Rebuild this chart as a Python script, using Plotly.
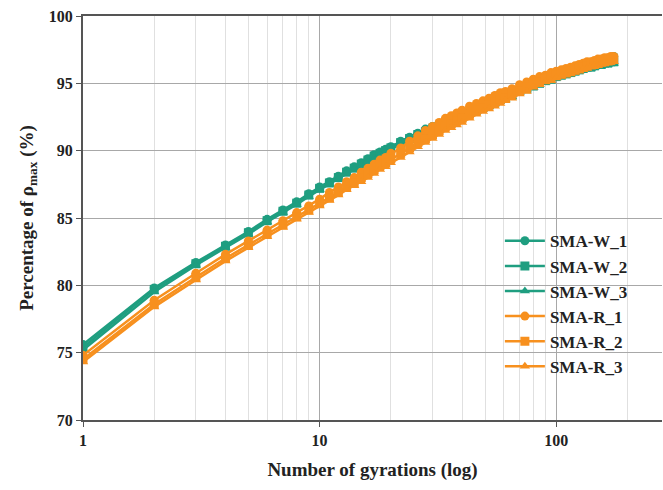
import plotly.graph_objects as go

gyrations = list(range(1, 21)) + list(range(22, 41, 2)) + list(range(43, 62, 3)) + list(range(65, 101, 5)) + list(range(105, 176, 5))

sma_w_1 = [75.6, 79.8, 81.7, 83.0, 84.0, 84.9, 85.6, 86.2, 86.8, 87.3, 87.7, 88.1, 88.5, 88.8, 89.1, 89.4, 89.7, 89.9, 90.1, 90.3,
           90.7, 91.0, 91.3, 91.6, 91.8, 92.0, 92.2, 92.4, 92.6, 92.7,
           93.0, 93.2, 93.4, 93.6, 93.8, 94.0, 94.1,
           94.3, 94.6, 94.8, 95.0, 95.2, 95.4, 95.5, 95.7,
           95.8, 95.9, 96.0, 96.1, 96.2, 96.3, 96.4, 96.5, 96.6, 96.6, 96.7, 96.8, 96.8, 96.9, 97.0]
sma_w_2 = [75.4, 79.7, 81.6, 82.9, 83.9, 84.8, 85.5, 86.1, 86.7, 87.2, 87.6, 88.0, 88.4, 88.7, 89.0, 89.3, 89.6, 89.8, 90.0, 90.2,
           90.6, 90.9, 91.2, 91.4, 91.6, 91.8, 92.0, 92.2, 92.4, 92.5,
           92.8, 93.0, 93.2, 93.4, 93.6, 93.8, 93.9,
           94.1, 94.4, 94.6, 94.8, 95.0, 95.2, 95.3, 95.5,
           95.6, 95.7, 95.8, 95.9, 96.0, 96.1, 96.2, 96.2, 96.3, 96.4, 96.4, 96.5, 96.5, 96.6, 96.6]
sma_w_3 = [75.2, 79.5, 81.5, 82.8, 83.8, 84.7, 85.4, 86.0, 86.6, 87.1, 87.5, 87.9, 88.3, 88.6, 88.9, 89.2, 89.4, 89.7, 89.9, 90.1,
           90.5, 90.8, 91.1, 91.3, 91.5, 91.7, 91.9, 92.1, 92.3, 92.4,
           92.7, 92.9, 93.1, 93.3, 93.5, 93.7, 93.8,
           94.0, 94.3, 94.5, 94.7, 94.9, 95.1, 95.2, 95.4,
           95.5, 95.6, 95.7, 95.8, 95.9, 96.0, 96.1, 96.1, 96.2, 96.3, 96.3, 96.4, 96.4, 96.5, 96.5]
sma_r_1 = [74.8, 78.9, 80.9, 82.3, 83.3, 84.1, 84.8, 85.4, 85.9, 86.4, 86.9, 87.3, 87.7, 88.0, 88.4, 88.7, 89.0, 89.3, 89.5, 89.8,
           90.2, 90.7, 91.1, 91.5, 91.8, 92.1, 92.4, 92.6, 92.8, 93.0,
           93.3, 93.5, 93.7, 93.9, 94.1, 94.3, 94.4,
           94.6, 94.9, 95.1, 95.3, 95.5, 95.6, 95.8, 95.9,
           96.0, 96.1, 96.2, 96.3, 96.4, 96.5, 96.6, 96.6, 96.7, 96.8, 96.8, 96.9, 96.9, 97.0, 97.0]
sma_r_2 = [74.5, 78.6, 80.6, 82.0, 83.0, 83.8, 84.5, 85.1, 85.6, 86.1, 86.5, 86.9, 87.3, 87.6, 88.0, 88.3, 88.6, 88.9, 89.1, 89.4,
           89.8, 90.2, 90.6, 90.9, 91.2, 91.5, 91.8, 92.0, 92.2, 92.4,
           92.7, 93.0, 93.2, 93.4, 93.6, 93.8, 93.9,
           94.2, 94.4, 94.7, 94.9, 95.1, 95.3, 95.4, 95.6,
           95.7, 95.8, 95.9, 96.0, 96.1, 96.2, 96.3, 96.4, 96.4, 96.5, 96.6, 96.6, 96.7, 96.7, 96.8]
sma_r_3 = [74.3, 78.4, 80.4, 81.8, 82.8, 83.6, 84.3, 84.9, 85.4, 85.9, 86.3, 86.7, 87.1, 87.4, 87.7, 88.0, 88.3, 88.6, 88.8, 89.1,
           89.5, 89.9, 90.3, 90.6, 90.9, 91.2, 91.5, 91.7, 91.9, 92.1,
           92.4, 92.7, 92.9, 93.1, 93.3, 93.5, 93.7,
           93.9, 94.2, 94.4, 94.7, 94.9, 95.1, 95.2, 95.4,
           95.5, 95.6, 95.7, 95.8, 95.9, 96.0, 96.1, 96.2, 96.3, 96.3, 96.4, 96.5, 96.5, 96.6, 96.6]

series_names = ["SMA-W_1", "SMA-W_2", "SMA-W_3", "SMA-R_1", "SMA-R_2", "SMA-R_3"]
series_values = [sma_w_1, sma_w_2, sma_w_3, sma_r_1, sma_r_2, sma_r_3]
for v in series_values:
    assert len(v) == len(gyrations), len(v)

x_ticks = [1, 10, 100]
y_ticks = [70, 75, 80, 85, 90, 95, 100]
minor_ticks = [2, 3, 4, 5, 6, 7, 8, 9, 20, 30, 40, 50, 60, 70, 80, 90, 200]

GREEN = "#1f9e80"
ORANGE = "#f7901e"
colors = [GREEN, GREEN, GREEN, ORANGE, ORANGE, ORANGE]
symbols = ["circle", "square", "triangle-up", "circle", "square", "triangle-up"]

fig = go.Figure()
for name, vals, c, s in zip(series_names, series_values, colors, symbols):
    fig.add_trace(go.Scatter(
        x=gyrations, y=vals, name=name, mode="lines+markers",
        line=dict(color=c, width=2.5),
        marker=dict(color=c, symbol=s, size=9),
    ))

FONT = "Liberation Serif"
fig.update_layout(
    width=663, height=490,
    margin=dict(l=83, r=1, t=16, b=70),
    paper_bgcolor="white", plot_bgcolor="white",
    font=dict(family=FONT, color="#222", size=16),
    showlegend=True,
    legend=dict(
        x=0.72, y=0.487, xanchor="left", yanchor="top",
        bgcolor="rgba(255,255,255,0)",
        font=dict(family=FONT, size=17, color="#222", weight="bold"),
        itemwidth=40, tracegroupgap=0,
    ),
)
fig.update_xaxes(
    type="log", range=[0, 2.447],
    tickvals=x_ticks, ticktext=[str(t) for t in x_ticks],
    tickfont=dict(family=FONT, size=16, weight="bold", color="#222"),
    ticks="outside", ticklen=5, tickcolor="#555",
    showline=True, linecolor="#555", linewidth=2, mirror=True,
    showgrid=True, gridcolor="#a8a8a8", gridwidth=1,
    minor=dict(tickvals=minor_ticks, showgrid=True, gridcolor="#e0e0e0", gridwidth=1, ticks=""),
    title=dict(text="<b>Number of gyrations (log)</b>", font=dict(family=FONT, size=19, color="#222"), standoff=14),
    zeroline=False,
)
fig.update_yaxes(
    range=[70, 100], tickvals=y_ticks,
    tickfont=dict(family=FONT, size=16, weight="bold", color="#222"),
    ticks="outside", ticklen=5, tickcolor="#555",
    showline=True, linecolor="#555", linewidth=2,
    showgrid=True, gridcolor="#a8a8a8", gridwidth=1,
    title=dict(text="<b>Percentage of ρ<sub>max</sub> (%)</b>", font=dict(family=FONT, size=19, color="#222"), standoff=10),
    zeroline=False,
)

fig.write_html("out.html")
